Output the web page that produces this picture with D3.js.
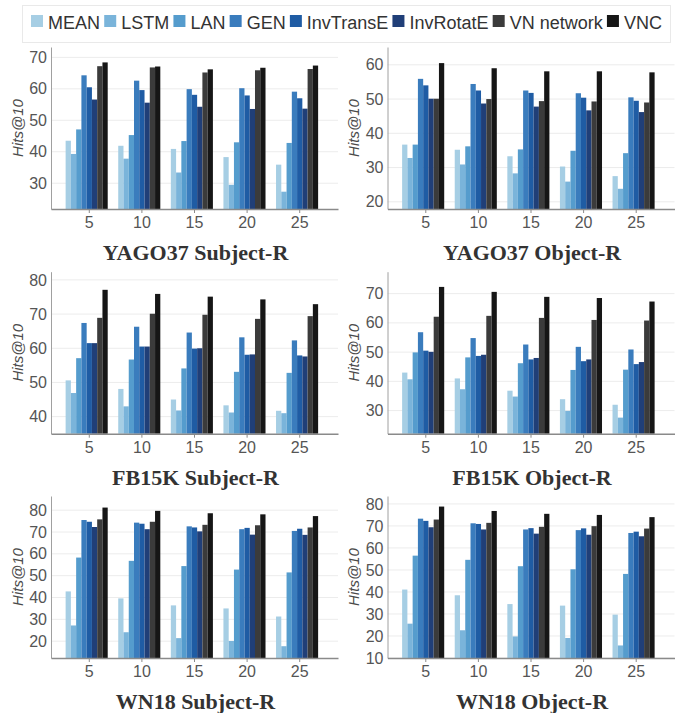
<!DOCTYPE html>
<html><head><meta charset="utf-8">
<script src="https://cdn.jsdelivr.net/npm/d3@7"></script>
<style>body{margin:0;background:#fff}</style></head>
<body><svg id="chart" width="677" height="713"></svg>
<script>
const categories = ['5', '10', '15', '20', '25'];
const series = ['MEAN', 'LSTM', 'LAN', 'GEN', 'InvTransE', 'InvRotatE', 'VN network', 'VNC'];
const colors = ['#a6cee4', '#7ab4da', '#559ccd', '#3a7cbd', '#1f5ca4', '#203f78', '#3b3b3b', '#161616'];

// values: one row per category (5,10,15,20,25), one entry per series
const yagoSubject = [
  [43.5, 39.3, 47.1, 64.3, 60.5, 56.6, 67.2, 68.4],
  [41.9, 37.8, 45.3, 62.6, 59.6, 55.6, 66.8, 67.1],
  [40.9, 33.4, 43.4, 59.9, 58.1, 54.3, 65.2, 66.2],
  [38.3, 29.5, 43.0, 60.2, 57.9, 53.6, 65.9, 66.7],
  [35.9, 27.3, 42.8, 59.1, 57.0, 53.7, 66.3, 67.4]
];
const yagoObject = [
  [36.7, 32.8, 36.7, 55.9, 54.0, 50.1, 50.1, 60.5],
  [35.2, 30.9, 36.2, 54.4, 52.5, 48.7, 50.0, 59.0],
  [33.3, 28.3, 35.3, 52.5, 51.8, 47.8, 49.4, 58.1],
  [30.3, 25.9, 34.9, 51.7, 50.4, 46.7, 49.3, 58.1],
  [27.5, 23.8, 34.2, 50.5, 49.5, 46.2, 49.0, 57.8]
];
const fbSubject = [
  [50.6, 46.9, 57.1, 67.4, 61.5, 61.5, 68.9, 77.1],
  [48.1, 43.0, 56.7, 66.3, 60.5, 60.5, 70.1, 75.9],
  [45.0, 41.8, 54.1, 64.6, 59.9, 60.0, 69.8, 75.1],
  [43.3, 41.2, 53.1, 63.2, 58.1, 58.2, 68.6, 74.3],
  [41.7, 41.0, 52.8, 62.3, 57.9, 57.6, 69.4, 72.9]
];
const fbObject = [
  [43.0, 40.7, 49.9, 56.8, 50.5, 50.1, 62.1, 72.3],
  [41.0, 37.3, 48.2, 54.8, 48.7, 49.1, 62.4, 70.6],
  [36.8, 34.8, 46.2, 52.6, 47.5, 48.0, 61.7, 68.9],
  [33.9, 29.9, 43.9, 51.8, 46.9, 47.5, 61.0, 68.5],
  [32.0, 27.6, 44.0, 50.9, 45.9, 46.6, 60.8, 67.3]
];
const wnSubject = [
  [42.8, 27.2, 58.3, 75.5, 74.7, 72.3, 75.8, 81.2],
  [39.6, 24.1, 56.8, 74.3, 73.8, 71.3, 74.7, 79.7],
  [36.4, 21.4, 54.4, 72.6, 72.1, 70.3, 73.3, 78.6],
  [35.0, 20.1, 52.8, 71.3, 71.9, 68.8, 73.1, 78.1],
  [31.3, 17.7, 51.5, 70.5, 71.5, 68.7, 72.1, 77.3]
];
const wnObject = [
  [41.1, 25.6, 56.5, 73.3, 72.3, 69.4, 72.9, 78.8],
  [38.5, 22.6, 54.6, 71.2, 70.9, 68.4, 71.4, 76.8],
  [34.5, 19.8, 51.7, 68.4, 69.0, 66.5, 69.6, 75.5],
  [33.8, 19.1, 50.3, 68.1, 68.9, 66.0, 69.9, 75.0],
  [29.7, 15.7, 48.2, 66.8, 67.4, 65.3, 68.8, 74.0]
];

const titles = ['YAGO37 Subject-R', 'YAGO37 Object-R', 'FB15K Subject-R', 'FB15K Object-R', 'WN18 Subject-R', 'WN18 Object-R'];
const yTicks = [
  [30, 40, 50, 60, 70],
  [20, 30, 40, 50, 60],
  [40, 50, 60, 70, 80],
  [30, 40, 50, 60, 70],
  [20, 30, 40, 50, 60, 70, 80],
  [10, 20, 30, 40, 50, 60, 70, 80]
];
const yLabel = 'Hits@10';

const datasets = [yagoSubject, yagoObject, fbSubject, fbObject, wnSubject, wnObject];
const domains = [[21.8, 73.3], [17.9, 65.2], [35.0, 82.4], [22.1, 77.5], [12.3, 86.5], [10, 83.6]];

const svg = d3.select('#chart');
const W = 287, H = 162;
const colLeft = [51, 387.5], rowTop = [47, 271.7, 496];
const sans = '"Liberation Sans", Arial, sans-serif';

// legend
const lg = svg.append('g');
lg.append('rect').attr('x', 22.5).attr('y', 5.5).attr('width', 648).attr('height', 37)
  .attr('fill', '#fff').attr('stroke', '#e9e9e9');
let lx = 31;
series.forEach((s, i) => {
  lg.append('rect').attr('x', lx).attr('y', 15).attr('width', 12).attr('height', 12).attr('fill', colors[i]);
  const t = lg.append('text').attr('x', lx + 17).attr('y', 29).text(s)
    .attr('font-family', sans).attr('font-size', 18).attr('fill', '#333');
  lx += 17 + t.node().getComputedTextLength() + 4.2;
});

datasets.forEach((data, i) => {
  const col = i % 2, row = Math.floor(i / 2);
  const g = svg.append('g').attr('transform', `translate(${colLeft[col]},${rowTop[row]})`);
  const x0 = d3.scaleBand().domain(categories).range([0, W]).paddingInner(0.1).paddingOuter(0.278);
  const x1 = d3.scaleBand().domain(series).range([0, x0.bandwidth() * 8 / 9]);
  const y = d3.scaleLinear().domain(domains[i]).range([H, 0]);

  g.append('g').selectAll('line').data(yTicks[i]).join('line')
    .attr('x1', 0).attr('x2', W).attr('y1', d => y(d)).attr('y2', d => y(d))
    .attr('stroke', '#ececec').attr('stroke-width', 1);

  const grp = g.append('g').selectAll('g').data(data).join('g')
    .attr('transform', (d, ci) => `translate(${x0(categories[ci])},0)`);
  grp.selectAll('rect').data(d => d.map((v, si) => ({ v, s: series[si], c: colors[si] }))).join('rect')
    .attr('x', d => x1(d.s)).attr('width', x1.bandwidth())
    .attr('y', d => y(d.v)).attr('height', d => H - y(d.v))
    .attr('fill', d => d.c);

  const ya = g.append('g').call(d3.axisLeft(y).tickValues(yTicks[i]).tickSize(0).tickSizeOuter(0).tickPadding(4));
  ya.select('.domain').attr('stroke', '#a0a0a0');
  ya.selectAll('text').attr('font-family', sans).attr('font-size', 16).attr('fill', '#555');

  const xa = g.append('g').attr('transform', `translate(0,${H})`)
    .call(d3.axisBottom(x0).tickSize(4).tickSizeOuter(0).tickPadding(3.6));
  xa.select('.domain').attr('stroke', '#8a8a8a').attr('stroke-width', 1.5);
  xa.selectAll('.tick line').attr('stroke', '#8a8a8a');
  xa.selectAll('text').attr('font-family', sans).attr('font-size', 16).attr('fill', '#555');

  g.append('text').attr('transform', `translate(${-33.5},${H / 2}) rotate(-90)`)
    .attr('text-anchor', 'middle').attr('dy', '0.35em')
    .attr('font-family', sans).attr('font-size', 15).attr('font-style', 'italic').attr('fill', '#4a4a4a')
    .text(yLabel);

  g.append('text').attr('x', W / 2 + 1).attr('y', H + 51).attr('text-anchor', 'middle')
    .attr('font-family', '"Liberation Serif", "Times New Roman", serif').attr('font-weight', 'bold')
    .attr('font-size', 22).attr('fill', '#333').text(titles[i]);
});
</script></body></html>
